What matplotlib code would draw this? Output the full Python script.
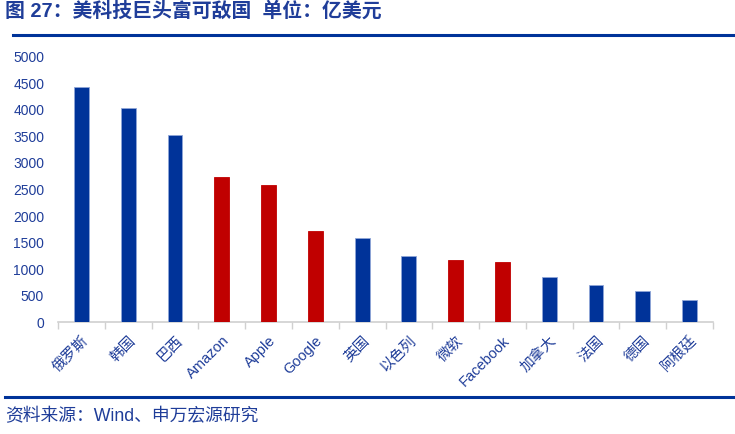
import matplotlib
matplotlib.use("Agg")
import matplotlib.pyplot as plt
import numpy as np

plt.rcParams['font.family'] = ['Liberation Sans', 'Noto Sans CJK SC', 'DejaVu Sans']

categories = ['俄罗斯', '韩国', '巴西', 'Amazon', 'Apple', 'Google', '英国', '以色列',
              '微软', 'Facebook', '加拿大', '法国', '德国', '阿根廷']
values = [4430, 4025, 3525, 2740, 2590, 1720, 1580, 1255, 1175, 1135, 850, 700, 585, 415]
is_tech = [False, False, False, True, True, True, False, False, True, True, False, False, False, False]
yticks = [0, 500, 1000, 1500, 2000, 2500, 3000, 3500, 4000, 4500, 5000]

BLUE = '#003399'
RED = '#C00000'
TXT = '#1F3D99'

fig = plt.figure(figsize=(7.35, 4.34), dpi=100)
ax = fig.add_axes([0.079, 0.2574, 0.891, 0.612])

x = np.arange(len(categories))
colors = [RED if t else BLUE for t in is_tech]
edges = [RED if t else '#8FA6D8' for t in is_tech]
ax.bar(x, values, width=0.32, color=colors, edgecolor=edges, linewidth=0.6, zorder=3)

ax.set_xlim(-0.5, len(categories) - 0.5)
ax.set_ylim(0, 5000)
ax.set_yticks(yticks)
ax.set_yticklabels([str(v) for v in yticks], color=TXT, fontsize=10)
ax.tick_params(axis='y', length=0, pad=10)

ax.set_xticks(x)
ax.set_xticklabels(categories, rotation=45, ha='right', rotation_mode='anchor',
                   color=TXT, fontsize=10.5)
ax.set_xticks(np.arange(len(categories) + 1) - 0.5, minor=True)
ax.tick_params(axis='x', which='major', length=0, pad=8)
ax.tick_params(axis='x', which='minor', length=5, color='#D0D0D0', width=1)

for s in ['top', 'right', 'left']:
    ax.spines[s].set_visible(False)
ax.spines['bottom'].set_color('#D0D0D0')
ax.spines['bottom'].set_linewidth(1.2)

# Title and decorations
fig.text(5 / 735, 1 - 11 / 434, '图 27：美科技巨头富可敌国  单位：亿美元', fontsize=14.3,
         fontweight='bold', color=TXT, ha='left', va='center')
fig.add_artist(plt.Line2D([13 / 735, 1.0], [1 - 34.5 / 434, 1 - 34.5 / 434],
                          color=BLUE, linewidth=2.2, transform=fig.transFigure))
fig.add_artist(plt.Line2D([5 / 735, 1.0], [1 - 397 / 434, 1 - 397 / 434],
                          color=BLUE, linewidth=2.2, transform=fig.transFigure))
fig.text(5 / 735, 1 - 417 / 434, '资料来源：Wind、申万宏源研究', fontsize=12.8,
         color=TXT, ha='left', va='center')

fig.savefig('out.png', dpi=100)
